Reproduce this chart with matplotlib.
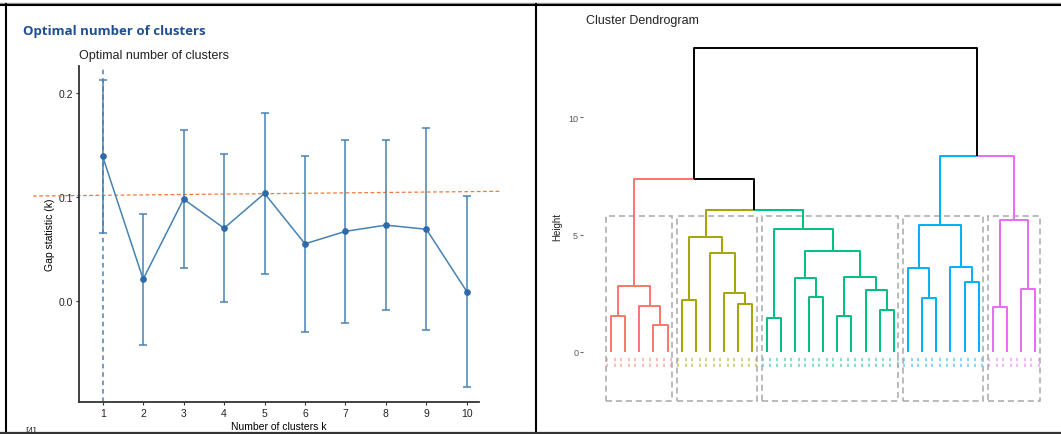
import numpy as np
import matplotlib.pyplot as plt
from matplotlib.lines import Line2D
from matplotlib.patches import Rectangle

plt.rcParams['font.family'] = ['Liberation Sans', 'DejaVu Sans']

# gap statistic data
k = [1, 2, 3, 4, 5, 6, 7, 8, 9, 10]
gap = [0.139, 0.021, 0.098, 0.070, 0.1035, 0.055, 0.067, 0.073, 0.069, 0.009]
se = [0.074, 0.063, 0.066, 0.071, 0.0775, 0.0845, 0.088, 0.082, 0.097, 0.092]
ref_line_x = [-0.72, 10.83]
ref_line_y = [0.101, 0.1055]
k_opt = 1

# dendrogram data: leaves 0..30 in display order, merges (left, right, height)
n_leaves = 31
leaf_cluster = [0]*5 + [1]*6 + [2]*10 + [3]*6 + [4]*4
merges = [
    (0, 1, 1.52), (3, 4, 1.15), (2, 32, 1.95), (31, 33, 2.81),          # red
    (5, 6, 2.20), (9, 10, 2.06), (8, 36, 2.53), (7, 37, 4.22), (35, 38, 4.89),  # olive
    (11, 12, 1.46), (14, 15, 2.34), (13, 41, 3.15), (16, 17, 1.55),
    (19, 20, 1.80), (18, 44, 2.65), (43, 45, 3.18), (42, 46, 4.32), (40, 47, 5.26),  # green
    (22, 23, 2.30), (21, 49, 3.56), (25, 26, 3.00), (24, 51, 3.64), (50, 52, 5.40),  # blue
    (27, 28, 1.93), (29, 30, 2.70), (54, 55, 5.62),                     # magenta
    (39, 48, 6.05), (34, 57, 7.36), (53, 56, 8.34), (58, 59, 12.94),
]
clust_colors = ['#F8766D', '#A3A500', '#00BF7D', '#00B0F6', '#E76BF3']
rect_top = 5.81
rect_bottom = -2.1

fig = plt.figure(figsize=(10.61, 4.35), dpi=100)
W, H = 1061., 435.

def box(l, t, r, b):
    return [l/W, 1-b/H, (r-l)/W, (b-t)/H]

# ---------------- left: gap statistic ----------------
ax = fig.add_axes(box(79, 67, 479, 403))
blue = '#4682B4'
ax.errorbar(k, gap, yerr=se, color=blue, lw=1.1, capsize=3.2, capthick=1.1,
            marker='o', ms=3.8, mfc='#2F69A8', mec='#2F69A8', zorder=3)
ax.axvline(k_opt, color=blue, lw=1.1, ls=(0, (3, 2.5)), zorder=2)
ax.plot(ref_line_x, ref_line_y, color='#F4793B', lw=0.9, ls=(0, (3, 2)), clip_on=False)
ax.set_xlim(0.415, 10.3)
ax.set_ylim(-0.0971, 0.226)
ax.set_xticks(k)
ax.set_yticks([0.0, 0.1, 0.2])
ax.set_yticklabels(['0.0', '0.1', '0.2'])
for s in ['top', 'right']:
    ax.spines[s].set_visible(False)
for s in ['left', 'bottom']:
    ax.spines[s].set_color('#333333')
    ax.spines[s].set_linewidth(1.3)
ax.tick_params(labelsize=7.5, length=2.5, width=0.8, color='#333333', labelcolor='#222222', pad=2)
ax.set_xlabel('Number of clusters k', fontsize=7.5, labelpad=2)
ax.set_ylabel('Gap statistic (k)', fontsize=7.5, labelpad=2)
ax.set_title('Optimal number of clusters', fontsize=9, loc='left', pad=6, color='#222222')

fig.text(23/W, 1-31/H, 'Optimal number of clusters', fontsize=9.5, fontweight='bold',
         color='#1F4E96', va='center', family=['Open Sans', 'DejaVu Sans'])
fig.text(25/W, 1-427/H, '[4]', fontsize=7, va='top', color='#333333')

# ---------------- right: dendrogram ----------------
ax2 = fig.add_axes(box(583, 30, 1058, 420))
xs = {i: float(i) for i in range(n_leaves)}
hs = {i: 0.0 for i in range(n_leaves)}
col = {i: clust_colors[leaf_cluster[i]] for i in range(n_leaves)}
for j, (a, b, h) in enumerate(merges):
    node = n_leaves + j
    xs[node] = (xs[a] + xs[b]) / 2
    hs[node] = h
    col[node] = col[a] if col[a] == col[b] else 'black'
    for c in (a, b):
        ax2.plot([xs[c], xs[c], xs[node]], [hs[c], h, h], color=col[c], lw=1.4,
                 solid_capstyle='butt', zorder=3)

# leaf label boxes
for i in range(n_leaves):
    c = clust_colors[leaf_cluster[i]]
    ax2.vlines([i - 0.27, i + 0.27], -0.62, -0.17, color=c, lw=1.1, alpha=0.6,
               linestyles=(0, (2.2, 1.6)))

# cluster rectangles
for ci in range(5):
    idx = [i for i in range(n_leaves) if leaf_cluster[i] == ci]
    ax2.add_patch(Rectangle((idx[0] - 0.33, rect_bottom), idx[-1] - idx[0] + 0.66,
                            rect_top - rect_bottom, fill=False, ec='#A8A8A8', lw=1.1,
                            ls=(0, (4, 2.5)), zorder=2))

ax2.set_xlim(-1.98, 31.61)
ax2.set_ylim(-2.855, 13.76)
ax2.set_xticks([])
ax2.set_yticks([0, 5, 10])
for s in ax2.spines.values():
    s.set_visible(False)
ax2.tick_params(axis='y', labelsize=6.5, length=2, width=0.8, color='#666666',
                labelcolor='#555555', pad=1.5)
ax2.set_ylabel('Height', fontsize=7, color='#222222')
ax2.yaxis.set_label_coords((562 - 583)/475., (420 - 227)/390.)
fig.text(586/W, 1-21/H, 'Cluster Dendrogram', fontsize=9, va='center', color='#222222')

# screenshot frame
frame = [
    ([0, W], [4, 4], '#999999', 1.0),
    ([0, W], [5.5, 5.5], 'black', 1.5),
    ([5.5, 5.5], [5, 434], 'black', 1.5),
    ([535.5, 535.5], [5, 434], 'black', 1.5),
    ([0, W], [433.5, 433.5], '#333333', 1.6),
]
for xx, yy, c, lw in frame:
    fig.add_artist(Line2D([v/W for v in xx], [1 - v/H for v in yy], color=c, lw=lw))

fig.savefig('out.png', dpi=100)
